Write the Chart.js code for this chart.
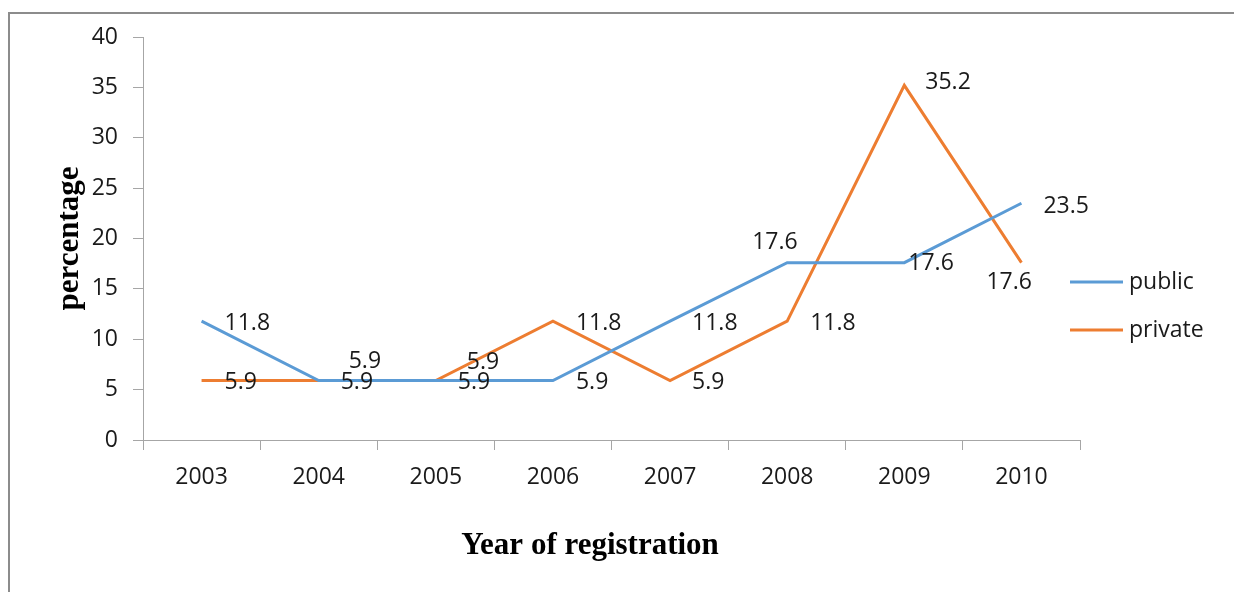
<!DOCTYPE html>
<html>
<head>
<meta charset="utf-8">
<script src="https://cdn.jsdelivr.net/npm/chart.js@4.4.1/dist/chart.umd.min.js"></script>
<style>
  html, body { margin: 0; padding: 0; background: #fff; }
  #wrap { width: 1234px; height: 592px; position: relative; }
</style>
</head>
<body>
<div id="wrap"><canvas id="myChart"></canvas></div>
<script>
var years = ['2003', '2004', '2005', '2006', '2007', '2008', '2009', '2010'];
var publicPct = [11.8, 5.9, 5.9, 5.9, 11.8, 17.6, 17.6, 23.5];
var privatePct = [5.9, 5.9, 5.9, 11.8, 5.9, 11.8, 35.2, 17.6];
var yTicks = [0, 5, 10, 15, 20, 25, 30, 35, 40];
var xTitle = 'Year of registration';

var tickFont = { family: 'Open Sans', size: 23 };
var titleFont = { family: 'Liberation Serif', size: 31, weight: 'bold' };

// where each value label sits relative to its point (left edge, vertical middle)
var publicLabelShift = [[23, 2], [30, -19], [22, 2], [23, 2], [22, 2], [-35, -20], [4, 1], [22, 3]];
var privateLabelShift = [[23, 2], [22, 2], [31, -18], [23, 2], [22, 2], [23, 2], [21, -3], [-35, 20]];

// frame, x title, value labels and legend
var extras = {
    id: 'extras',
    beforeDraw: function(chart) {
        var c = chart.ctx;
        c.save();
        c.strokeStyle = '#8c8c8c';
        c.lineWidth = 2;
        c.beginPath();
        c.moveTo(9, 592);
        c.lineTo(9, 13);
        c.lineTo(1234, 13);
        c.stroke();
        c.restore();
    },
    afterDatasetsDraw: function(chart) {
        var c = chart.ctx;
        c.save();

        // x axis title sits a bit left of the plot centre
        c.font = 'bold ' + titleFont.size + 'px ' + titleFont.family;
        c.fillStyle = '#000';
        c.textAlign = 'center';
        c.textBaseline = 'middle';
        c.fillText(xTitle, 590, 546);

        c.font = tickFont.size + 'px ' + tickFont.family;
        c.fillStyle = '#1a1a1a';
        c.textAlign = 'left';
        chart.data.datasets.forEach(function(ds, di) {
            var meta = chart.getDatasetMeta(di);
            meta.data.forEach(function(pt, i) {
                var s = ds.labelShift[i];
                c.fillText(ds.data[i].toFixed(1), pt.x + s[0], pt.y + s[1]);
            });
        });

        // legend
        var ly = 282;
        chart.data.datasets.forEach(function(ds) {
            c.strokeStyle = ds.borderColor;
            c.lineWidth = 3;
            c.beginPath();
            c.moveTo(1070, ly);
            c.lineTo(1123, ly);
            c.stroke();
            c.fillStyle = '#1a1a1a';
            c.fillText(ds.label, 1129, ly);
            ly += 48;
        });
        c.restore();
    }
};

var ctx = document.getElementById('myChart').getContext('2d');
var myChart = new Chart(ctx, {
    type: 'line',
    data: {
        labels: years,
        datasets: [{
            label: 'public',
            data: publicPct,
            borderColor: '#5b9bd5',
            backgroundColor: '#5b9bd5',
            borderWidth: 3,
            pointRadius: 0,
            labelShift: publicLabelShift
        }, {
            label: 'private',
            data: privatePct,
            borderColor: '#ed7d31',
            backgroundColor: '#ed7d31',
            borderWidth: 3,
            pointRadius: 0,
            labelShift: privateLabelShift
        }]
    },
    options: {
        responsive: true,
        maintainAspectRatio: false,
        animation: false,
        layout: { padding: { left: 51, top: 37, right: 154, bottom: 26 } },
        plugins: {
            legend: { display: false },
            tooltip: { enabled: false }
        },
        scales: {
            x: {
                offset: true,
                grid: { offset: true, drawOnChartArea: false, drawTicks: true, tickLength: 10, color: '#a6a6a6' },
                border: { color: '#a6a6a6', width: 1 },
                ticks: { font: tickFont, color: '#1a1a1a', padding: 14, maxRotation: 0 },
                afterFit: function(scale) { scale.height = 126; }
            },
            y: {
                min: 0,
                max: 40,
                afterBuildTicks: function(scale) {
                    scale.ticks = yTicks.map(function(v) { return { value: v }; });
                },
                grid: { drawOnChartArea: false, drawTicks: true, tickLength: 10, color: '#a6a6a6' },
                border: { color: '#a6a6a6', width: 1 },
                ticks: { font: tickFont, color: '#1a1a1a', padding: 15 },
                title: {
                    display: true,
                    text: 'percentage',
                    font: titleFont,
                    color: '#000',
                    padding: 0
                },
                afterFit: function(scale) { scale.width = 92; }
            }
        }
    },
    plugins: [extras]
});
</script>
</body>
</html>
